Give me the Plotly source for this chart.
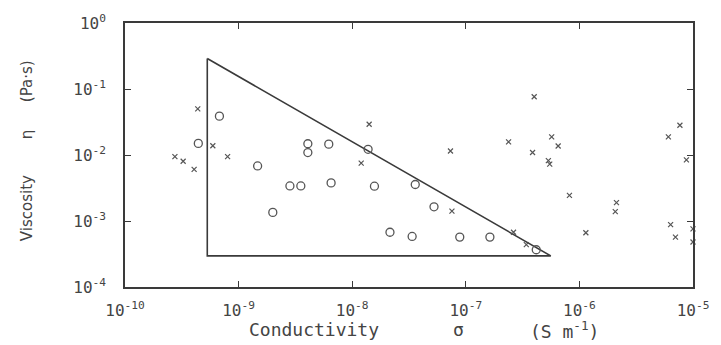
import plotly.graph_objects as go

# ---- data ----
cross_sigma = [4.37e-10, 5.93e-10, 2.75e-10, 3.25e-10, 4.06e-10, 8.0e-10,
               1.41e-8, 1.20e-8, 7.33e-8, 7.55e-8, 2.38e-7, 4.0e-7,
               5.70e-7, 6.50e-7, 3.87e-7, 5.33e-7, 5.48e-7, 7.67e-6,
               6.07e-6, 8.75e-6, 8.17e-7, 2.12e-6, 2.07e-6, 1.14e-6,
               6.35e-6, 7.01e-6, 1.0e-5, 1.0e-5, 2.63e-7, 3.41e-7]
cross_eta = [0.0499, 0.0138, 0.00946, 0.00805, 0.00605, 0.00946,
             0.0292, 0.00752, 0.0115, 0.00141, 0.0158, 0.0764,
             0.0188, 0.0137, 0.0109, 0.00824, 0.00726, 0.0282,
             0.0188, 0.00845, 0.00245, 0.00190, 0.00139, 0.000664,
             0.000881, 0.000570, 0.000760, 0.000480, 0.000676, 0.000439]

circle_sigma = [6.78e-10, 4.42e-10, 1.47e-9, 4.07e-9, 4.07e-9, 6.22e-9,
                1.38e-8, 2.83e-9, 3.53e-9, 2.00e-9, 6.52e-9, 1.57e-8,
                3.59e-8, 5.25e-8, 2.15e-8, 3.37e-8, 8.85e-8, 1.63e-7,
                4.17e-7]
circle_eta = [0.0388, 0.0150, 0.00682, 0.0148, 0.0109, 0.0146,
              0.0122, 0.00340, 0.00340, 0.00135, 0.00378, 0.00337,
              0.00357, 0.00164, 0.000675, 0.000583, 0.000570, 0.000570,
              0.000367]

triangle_sigma = [5.3e-10, 5.3e-10, 5.6e-7, 5.3e-10]
triangle_eta = [0.29, 2.96e-4, 2.96e-4, 0.29]

x_tickvals = [1e-10, 1e-9, 1e-8, 1e-7, 1e-6, 1e-5]
x_ticktext = ["10<sup>-10</sup>", "10<sup>-9</sup>", "10<sup>-8</sup>",
              "10<sup>-7</sup>", "10<sup>-6</sup>", "10<sup>-5</sup>"]
y_tickvals = [1e-4, 1e-3, 1e-2, 1e-1, 1e0]
y_ticktext = ["10<sup>-4</sup>", "10<sup>-3</sup>", "10<sup>-2</sup>",
              "10<sup>-1</sup>", "10<sup>0</sup>"]

INK = "#3a3a3a"
MARK = "#555555"
FONT = "DejaVu Sans"
MONO = "DejaVu Sans Mono"

fig = go.Figure()
fig.add_trace(go.Scatter(x=triangle_sigma, y=triangle_eta, mode="lines",
                         line=dict(color=INK, width=1.6), hoverinfo="skip",
                         showlegend=False))
fig.add_trace(go.Scatter(x=cross_sigma, y=cross_eta, mode="markers",
                         marker=dict(symbol="x-thin-open", size=5, color=MARK,
                                     line=dict(color=MARK, width=1.2)),
                         cliponaxis=False, showlegend=False))
fig.add_trace(go.Scatter(x=circle_sigma, y=circle_eta, mode="markers",
                         marker=dict(symbol="circle-open", size=8, color=MARK,
                                     line=dict(color=MARK, width=1.3)),
                         cliponaxis=False, showlegend=False))

axis_common = dict(type="log", showgrid=False, zeroline=False,
                   showline=True, linecolor=INK, linewidth=1.6,
                   mirror="ticks", ticks="inside", ticklen=6,
                   tickcolor=INK, tickwidth=1.4,
                   tickfont=dict(family=MONO, size=16, color="#444"))

fig.update_xaxes(range=[-10, -5], tickvals=x_tickvals, ticktext=x_ticktext,
                 ticklabelstandoff=8, **axis_common)
fig.update_yaxes(range=[-4, 0], tickvals=y_tickvals, ticktext=y_ticktext,
                 ticklabelstandoff=14, **axis_common)

yfont = dict(family=FONT, size=15, color="#444")
xfont = dict(family=MONO, size=18, color="#444")
ann = [
    dict(text="Viscosity", x=-0.1736, y=0.300, textangle=-90, font=yfont),
    dict(text="η", x=-0.1736, y=0.58, textangle=-90, font=yfont),
    dict(text="(Pa·s)", x=-0.1736, y=0.781, textangle=-90, font=yfont),
    dict(text="Conductivity", x=0.332, y=-0.162, textangle=0, font=xfont),
    dict(text="σ", x=0.587, y=-0.162, textangle=0, font=xfont),
    dict(text="(S m<sup>-1</sup>)", x=0.774, y=-0.162, textangle=0, font=xfont),
]
for a in ann:
    fig.add_annotation(xref="paper", yref="paper", showarrow=False,
                       xanchor="center", yanchor="middle", **a)

fig.update_layout(width=721, height=345,
                  margin=dict(l=125, r=20, t=19.5, b=57.7),
                  plot_bgcolor="white", paper_bgcolor="white")

fig.write_html("out.html")
